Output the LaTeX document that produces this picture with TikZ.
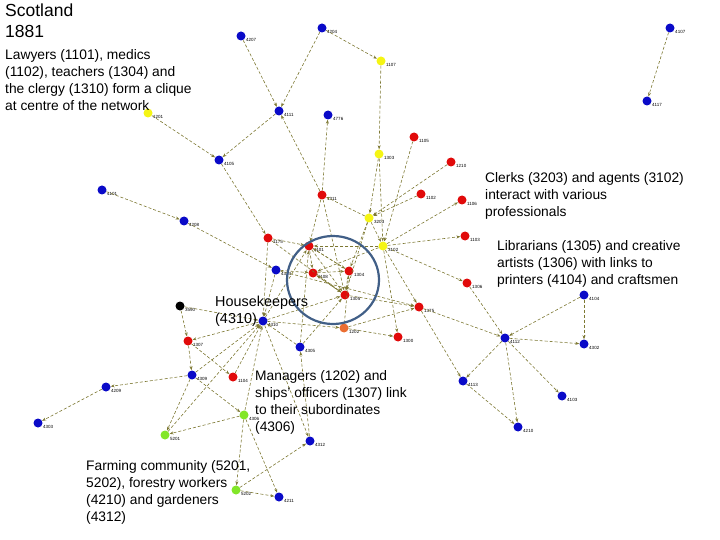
\documentclass[tikz,border=0pt]{standalone}
\usepackage{fontspec}
\setmainfont{Liberation Sans}
\usetikzlibrary{arrows.meta}
\definecolor{edg}{RGB}{125,120,50}
\definecolor{nred}{RGB}{225,10,10}
\definecolor{nblue}{RGB}{10,10,200}
\definecolor{nyel}{RGB}{245,245,20}
\definecolor{ngrn}{RGB}{130,230,40}
\definecolor{norg}{RGB}{235,110,50}
\definecolor{ring}{RGB}{65,95,135}
\begin{document}
\begin{tikzpicture}[x=1pt,y=-1pt,
  dot/.style={circle,fill=#1,inner sep=0,minimum size=9pt},
  lab/.style={font=\fontsize{4.5}{5}\selectfont,inner sep=0.5pt},
  e/.style={draw=edg,line width=0.6pt,dash pattern=on 3pt off 2pt,-{Stealth[length=4pt,width=3pt]}},
  ann/.style={anchor=north west,align=left,inner sep=0,font=\fontsize{13.8}{17}\selectfont}]
\useasboundingbox (0,0) rectangle (720,540);
\foreach \n/\x/\y/\c/\t in {
a4207/241/36/nblue/4207, a4204/322/28/nblue/4204, a1107/381/61/nyel/1107,
a4107/670/28/nblue/4107, a4117/647/101/nblue/4117, a1201/148/113/nyel/1201,
a4111/279/111/nblue/4111, a4776/328/115/nblue/4776, a1105/414/137/nred/1105,
a1303/379/154/nyel/1303, a1210/451/162/nred/1210, a4105/219/160/nblue/4105,
a4101/102/190/nblue/4101, a1311/322/195/nred/1311, a1102/421/194/nred/1102,
a1106/462/200/nred/1106, a4208/184/221/nblue/4208, a3203/369/218/nyel/3203,
a1175/268/238/nred/1175, a1101/309/246/nred/1101, a3102/383/246/nyel/3102,
a1103/465/236/nred/1103, a4314/276/270/nblue/4314, a1108/313/273/nred/1108,
a1304/349/271/nred/1304, a1305/345/295/nred/1305, a1306/467/283/nred/1306,
a3590/180/306/black/3590, a4310/263/321/nblue/4310, a1202/344/328/norg/1202,
a1375/419/307/nred/1375, a1307/188/341/nred/1307, a1300/398/337/nred/1300,
a4305/300/347/nblue/4305, a4112/505/338/nblue/4112, a4104/584/295/nblue/4104,
a4302/584/344/nblue/4302, a4309/192/375/nblue/4309, a1104/233/377/nred/1104,
a4209/106/387/nblue/4209, a4306/244/415/ngrn/4306, a4113/463/381/nblue/4113,
a4103/562/396/nblue/4103, a4303/38/423/nblue/4303, a5201/165/435/ngrn/5201,
a4312/310/441/nblue/4312, a4210/518/427/nblue/4210, a5202/236/490/ngrn/5202,
a4211/279/497/nblue/4211}
  \node[dot=\c,label={[lab]-15:\t}] (\n) at (\x,\y) {};
\foreach \s/\d in {
a4207/a4111, a4204/a4111, a4204/a1107, a1107/a1303, a4107/a4117, a1201/a4105,
a4111/a4105, a1311/a4111, a1311/a4776, a1303/a3203, a1303/a3102, a1105/a3102,
a1210/a3203, a1102/a3203, a3102/a1106, a4105/a1175, a4101/a4208, a4208/a4314,
a1175/a4310, a1175/a1101, a1311/a1101, a3203/a1311, a3203/a3102, a3102/a1103,
a3102/a1306, a3102/a1375, a3102/a1300, a1101/a1108, a1101/a1304, a1101/a1305,
a1108/a1304, a1108/a1305, a1304/a1305, a3203/a1304, a3203/a1305, a3102/a1101,
a3102/a1108, a1304/a1101, a1305/a1108, a4314/a4310, a4314/a1108, a3590/a4310,
a3590/a1307, a4310/a1307, a1307/a4309, a1307/a1104, a4309/a4209, a4209/a4303,
a4309/a5201, a5201/a4310, a4309/a4306, a4306/a5201, a4306/a5202, a4306/a4310,
a4306/a4211, a5202/a4211, a5202/a4312, a4312/a4305, a4305/a1305, a4310/a1202,
a1202/a1300, a1202/a1375, a1375/a4112, a1306/a4112, a4104/a4112, a4104/a4302,
a4112/a4302, a4112/a4113, a4112/a4103, a4112/a4210, a4113/a4210, a1375/a4113,
a4310/a1101, a4310/a1305, a4305/a1101, a1305/a1375, a1104/a4310, a1311/a1305,
a1202/a1304, a1175/a1305, a4314/a1375, a4305/a4310, a4310/a4312, a4309/a4310}
  \draw[e] (\s) -- (\d);
\draw[ring,line width=2.2pt] (333,280) ellipse (46 and 44);
\node[ann,font=\fontsize{17.5}{21}\selectfont] (t0) at (5,4) {Scotland\\1881};
\node[ann] (t1) at (5,49) {Lawyers (1101), medics\\(1102), teachers (1304) and\\the clergy (1310) form a clique\\at centre of the network};
\node[ann] (t2) at (485,172) {Clerks (3203) and agents (3102)\\interact with various\\professionals};
\node[ann] (t3) at (497,240) {Librarians (1305) and creative\\artists (1306) with links to\\printers (4104) and craftsmen};
\node[ann,font=\fontsize{14.4}{17}\selectfont] (t4) at (215,296) {Housekeepers\\(4310)};
\node[ann] (t5) at (255,370) {Managers (1202) and\\ships' officers (1307) link\\to their subordinates\\(4306)};
\node[ann] (t6) at (86,460) {Farming community (5201,\\5202), forestry workers\\(4210) and gardeners\\(4312)};
\end{tikzpicture}
\end{document}
